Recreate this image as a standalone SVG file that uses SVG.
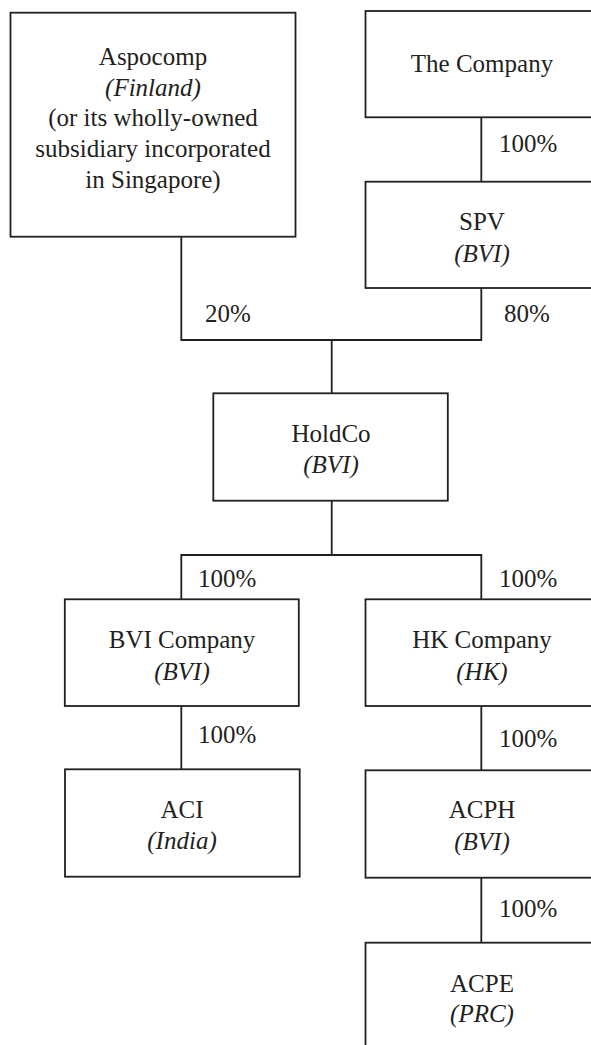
<svg xmlns="http://www.w3.org/2000/svg" width="591" height="1045" viewBox="0 0 591 1045">
<style>
.box{fill:#fff;stroke:#231f20;stroke-width:1.8}
.ln{fill:none;stroke:#231f20;stroke-width:1.8}
text{font-family:'Liberation Serif','Times New Roman','DejaVu Serif',serif;font-size:25px;fill:#231f20}
.c{text-anchor:middle}
.i{font-style:italic}
</style>
<rect width="591" height="1045" fill="#fff"/>
<g id="connectors" font-family="Liberation Serif, serif">
<path class="ln" d="M481.3 117.3V181.7"/>
<path class="ln" d="M181.3 236.7V340H481.3V288"/>
<path class="ln" d="M331.7 340V393.3"/>
<path class="ln" d="M331.7 500.7V555"/>
<path class="ln" d="M181.3 599.3V555H481.3V599.3"/>
<path class="ln" d="M181.3 706V769.3"/>
<path class="ln" d="M481.3 706V770.3"/>
<path class="ln" d="M481.3 877.7V942.7"/>
<text x="499" y="151.7">100%</text>
<text x="205" y="321.7">20%</text>
<text x="504" y="321.7">80%</text>
<text x="198" y="586.7">100%</text>
<text x="499" y="586.7">100%</text>
<text x="198" y="743.3">100%</text>
<text x="499" y="746.7">100%</text>
<text x="499" y="916.7">100%</text>
</g>
<g id="aspocomp">
<rect class="box" x="10.5" y="12.7" width="285" height="224"/>
<text class="c" x="153" y="65">Aspocomp</text>
<text class="c i" x="153" y="95.7">(Finland)</text>
<text class="c" x="153" y="126.3">(or its wholly-owned</text>
<text class="c" x="153" y="157">subsidiary incorporated</text>
<text class="c" x="153" y="187.7">in Singapore)</text>
</g>
<g id="company">
<rect class="box" x="365.5" y="11" width="236" height="106.3"/>
<text class="c" x="482" y="71.7">The Company</text>
</g>
<g id="spv">
<rect class="box" x="365.5" y="181.7" width="236" height="106.3"/>
<text class="c" x="482" y="230">SPV</text>
<text class="c i" x="482" y="261.7">(BVI)</text>
</g>
<g id="holdco">
<rect class="box" x="213.3" y="393.3" width="234.5" height="107.4"/>
<text class="c" x="331" y="441.7">HoldCo</text>
<text class="c i" x="331" y="473.3">(BVI)</text>
</g>
<g id="bvi-company">
<rect class="box" x="64.8" y="599.3" width="234" height="106.7"/>
<text class="c" x="182" y="648.3">BVI Company</text>
<text class="c i" x="182" y="680">(BVI)</text>
</g>
<g id="hk-company">
<rect class="box" x="365.5" y="599.3" width="236" height="106.7"/>
<text class="c" x="482" y="648.3">HK Company</text>
<text class="c i" x="482" y="680">(HK)</text>
</g>
<g id="aci">
<rect class="box" x="65" y="769.3" width="234.7" height="107.4"/>
<text class="c" x="182" y="818.3">ACI</text>
<text class="c i" x="182" y="849.3">(India)</text>
</g>
<g id="acph">
<rect class="box" x="365.5" y="770.3" width="236" height="107.4"/>
<text class="c" x="482" y="818.3">ACPH</text>
<text class="c i" x="482" y="850">(BVI)</text>
</g>
<g id="acpe">
<rect class="box" x="365.5" y="942.7" width="236" height="110"/>
<text class="c" x="482" y="991.7">ACPE</text>
<text class="c i" x="482" y="1021.7">(PRC)</text>
</g>
</svg>
